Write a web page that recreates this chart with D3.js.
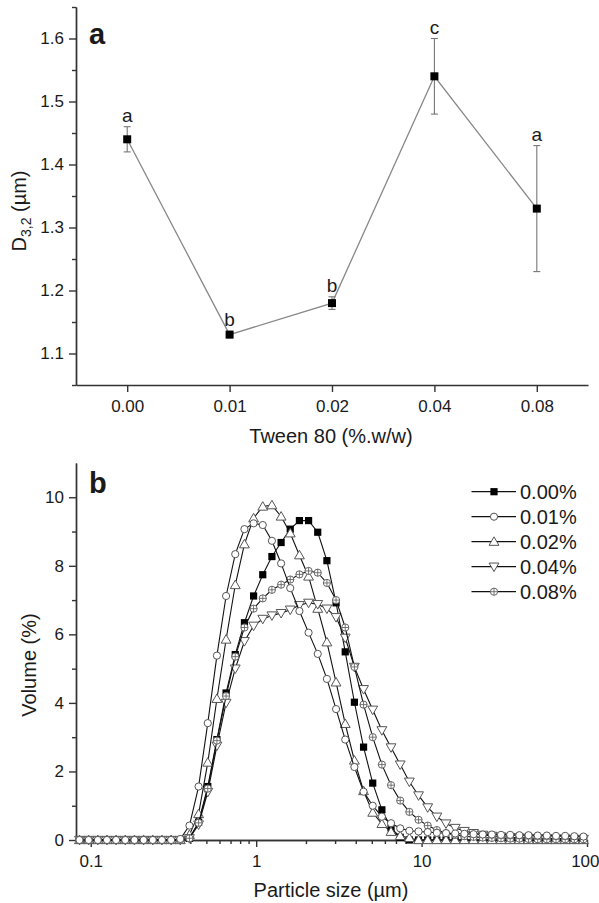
<!DOCTYPE html>
<html>
<head>
<meta charset="utf-8">
<script src="https://cdn.jsdelivr.net/npm/d3@7"></script>
<style>
  body { margin: 0; background: #fff; }
  text { font-family: "Liberation Sans", Arial, sans-serif; fill: #1a1a1a; }
  .axis path, .axis line { stroke: #333; stroke-width: 1.4; }
</style>
</head>
<body>
<svg id="chart" width="599" height="903"></svg>
<script>
// ---- panel a data: D3,2 vs Tween 80 level ----
const tweenLevels = ["0.00", "0.01", "0.02", "0.04", "0.08"];
const d32Mean = [1.44, 1.13, 1.18, 1.54, 1.33];
const d32Err = [0.02, 0.005, 0.01, 0.06, 0.10];
const groupLetters = ["a", "b", "b", "c", "a"];
const yTicksA = [1.1, 1.2, 1.3, 1.4, 1.5, 1.6];
const yMinorA = [1.05, 1.15, 1.25, 1.35, 1.45, 1.55, 1.65];

// ---- panel b data: volume distributions ----
const particleSizes = [0.0855, 0.0971, 0.1103, 0.1253, 0.1423, 0.1617, 0.1837, 0.2087, 0.2371, 0.2694,
  0.3060, 0.3477, 0.3950, 0.4487, 0.5098, 0.5791, 0.6579, 0.7474, 0.8492, 0.9647,
  1.096, 1.245, 1.415, 1.607, 1.826, 2.074, 2.356, 2.677, 3.041, 3.455,
  3.925, 4.459, 5.065, 5.754, 6.537, 7.427, 8.437, 9.585, 10.89, 12.37,
  14.05, 15.97, 18.14, 20.61, 23.41, 26.60, 30.21, 34.32, 38.99, 44.30,
  50.33, 57.17, 64.95, 73.79, 83.83, 95.24];
const vol000 = [0, 0, 0, 0, 0, 0, 0, 0, 0, 0,
  0, 0, 0.05, 0.52, 1.56, 2.93, 4.29, 5.41, 6.34, 7.12,
  7.74, 8.27, 8.68, 9.07, 9.32, 9.32, 8.98, 8.15, 6.92, 5.49,
  4.02, 2.71, 1.66, 0.88, 0.35, 0.08, 0, 0, 0, 0,
  0, 0, 0, 0, 0, 0, 0, 0, 0, 0,
  0, 0, 0, 0, 0, 0];
const vol001 = [0, 0, 0, 0, 0, 0, 0, 0, 0, 0,
  0, 0.03, 0.42, 1.56, 3.41, 5.38, 7.12, 8.34, 9.07, 9.24,
  9.19, 8.73, 8.07, 7.35, 6.68, 6.05, 5.43, 4.7, 3.82, 2.93,
  2.13, 1.41, 1.0, 0.68, 0.49, 0.34, 0.27, 0.25, 0.23, 0.21,
  0.2, 0.19, 0.18, 0.17, 0.16, 0.16, 0.15, 0.15, 0.14, 0.14,
  0.13, 0.13, 0.12, 0.12, 0.11, 0.1];
const vol002 = [0, 0, 0, 0, 0, 0, 0, 0, 0, 0,
  0, 0, 0.15, 0.76, 2.26, 4.12, 5.85, 7.44, 8.63, 9.39,
  9.73, 9.77, 9.44, 8.95, 8.31, 7.69, 6.75, 5.77, 4.6, 3.39,
  2.32, 1.43, 0.8, 0.47, 0.24, 0.12, 0.06, 0, 0, 0,
  0, 0, 0, 0, 0, 0, 0, 0, 0, 0,
  0, 0, 0, 0, 0, 0];
const vol004 = [0, 0, 0, 0, 0, 0, 0, 0, 0, 0,
  0, 0, 0.05, 0.45, 1.4, 2.75, 4.0, 5.0, 5.8, 6.25,
  6.45, 6.55, 6.62, 6.72, 6.85, 6.92, 6.88, 6.75, 6.5, 5.9,
  5.05, 4.4, 3.8, 3.2, 2.7, 2.2, 1.7, 1.3, 0.95, 0.68,
  0.48, 0.35, 0.26, 0.2, 0.15, 0.12, 0.1, 0.08, 0.07, 0.06,
  0.05, 0.05, 0.04, 0.04, 0.03, 0.03];
const vol008 = [0, 0, 0, 0, 0, 0, 0, 0, 0, 0,
  0, 0, 0.05, 0.5, 1.5, 2.9, 4.2, 5.35, 6.2, 6.75,
  7.05, 7.3, 7.45, 7.6, 7.75, 7.85, 7.8, 7.5, 7.0, 6.2,
  5.05, 3.95, 3.0, 2.2, 1.6, 1.15, 0.82, 0.59, 0.42, 0.29,
  0.2, 0.15, 0.11, 0.09, 0.07, 0.06, 0.05, 0.04, 0.04, 0.03,
  0.02, 0.02, 0.02, 0.02, 0.02, 0.02];
const seriesNames = ["0.00%", "0.01%", "0.02%", "0.04%", "0.08%"];
const seriesValues = [vol000, vol001, vol002, vol004, vol008];
const markerKinds = ["square", "circle", "up", "down", "cross"];
const yTicksB = [0, 2, 4, 6, 8, 10];
const yMinorB = [1, 3, 5, 7, 9];
const xTicksB = [0.1, 1, 10, 100];
const xMinorB = [0.09, 0.2, 0.3, 0.4, 0.5, 0.6, 0.7, 0.8, 0.9, 2, 3, 4, 5, 6, 7, 8, 9,
  20, 30, 40, 50, 60, 70, 80, 90];

const svg = d3.select("#chart");

// =============== panel a ===============
const xA = d3.scalePoint().domain(tweenLevels).range([76, 588]).padding(0.5);
const yA = d3.scaleLinear().domain([1.05, 1.65]).range([385, 7]);

const gA = svg.append("g");

gA.append("g").attr("class", "axis").attr("transform", "translate(76,0)")
  .call(d3.axisLeft(yA).tickValues(yMinorA).tickSize(4).tickSizeOuter(0).tickFormat(""));
gA.append("g").attr("class", "axis").attr("transform", "translate(76,0)")
  .call(d3.axisLeft(yA).tickValues(yTicksA).tickSize(7).tickSizeOuter(0).tickPadding(5)
    .tickFormat(d3.format(".1f")))
  .selectAll("text").style("font-size", "17px");
gA.append("g").attr("class", "axis").attr("transform", "translate(0,385)")
  .call(d3.axisBottom(xA).tickSize(7).tickSizeOuter(0).tickPadding(8))
  .selectAll("text").style("font-size", "17px");
gA.selectAll(".domain").attr("stroke-width", 1.6);

const ptsA = tweenLevels.map((c, i) => ({ c: c, m: d32Mean[i], e: d32Err[i], l: groupLetters[i] }));

gA.append("path").datum(ptsA)
  .attr("fill", "none").attr("stroke", "#888").attr("stroke-width", 1.3)
  .attr("d", d3.line().x(d => xA(d.c)).y(d => yA(d.m)));

const eb = gA.selectAll(".err").data(ptsA).enter().append("g").attr("class", "err")
  .attr("stroke", "#777").attr("stroke-width", 1.1);
eb.append("line").attr("x1", d => xA(d.c)).attr("x2", d => xA(d.c))
  .attr("y1", d => yA(d.m - d.e)).attr("y2", d => yA(d.m + d.e));
eb.append("line").attr("x1", d => xA(d.c) - 3.5).attr("x2", d => xA(d.c) + 3.5)
  .attr("y1", d => yA(d.m + d.e)).attr("y2", d => yA(d.m + d.e));
eb.append("line").attr("x1", d => xA(d.c) - 3.5).attr("x2", d => xA(d.c) + 3.5)
  .attr("y1", d => yA(d.m - d.e)).attr("y2", d => yA(d.m - d.e));

gA.selectAll(".ptA").data(ptsA).enter().append("rect")
  .attr("x", d => xA(d.c) - 4).attr("y", d => yA(d.m) - 4)
  .attr("width", 8).attr("height", 8).attr("fill", "#000");

// letters sit above the error bar, or above the marker when the bar is tiny
gA.selectAll(".lab").data(ptsA).enter().append("text")
  .attr("x", d => xA(d.c)).attr("y", d => Math.min(yA(d.m + d.e), yA(d.m) - 4) - 5)
  .attr("text-anchor", "middle").style("font-size", "19px").text(d => d.l);

gA.append("text").attr("x", 89).attr("y", 44)
  .style("font-size", "29px").style("font-weight", "bold").text("a");

const yTitleA = gA.append("text").attr("transform", "translate(26,211) rotate(-90)")
  .attr("text-anchor", "middle").style("font-size", "20px");
yTitleA.append("tspan").text("D");
yTitleA.append("tspan").attr("dy", 5).style("font-size", "14px").text("3,2");
yTitleA.append("tspan").attr("dy", -5).text(" (\u00b5m)");

gA.append("text").attr("x", 331).attr("y", 443).attr("text-anchor", "middle")
  .style("font-size", "20px").text("Tween 80 (%.w/w)");

// =============== panel b ===============
const xB = d3.scaleLog().domain([0.082, 100]).range([76.5, 587]);
const yB = d3.scaleLinear().domain([0, 11]).range([840, 463]);

const gB = svg.append("g");

gB.append("g").attr("class", "axis").attr("transform", "translate(76,0)")
  .call(d3.axisLeft(yB).tickValues(yMinorB).tickSize(4).tickSizeOuter(0).tickFormat(""));
gB.append("g").attr("class", "axis").attr("transform", "translate(76,0)")
  .call(d3.axisLeft(yB).tickValues(yTicksB).tickSize(7).tickSizeOuter(0).tickPadding(5)
    .tickFormat(d3.format("d")))
  .selectAll("text").style("font-size", "17px");
gB.append("g").attr("class", "axis").attr("transform", "translate(0,840)")
  .call(d3.axisBottom(xB).tickValues(xMinorB).tickSize(4).tickSizeOuter(0).tickFormat(""));
const xAxisB = gB.append("g").attr("class", "axis").attr("transform", "translate(0,840)")
  .call(d3.axisBottom(xB).tickValues(xTicksB).tickSize(7).tickSizeOuter(0).tickPadding(8)
    .tickFormat(d => String(d)));
xAxisB.selectAll("text").style("font-size", "17px")
  .filter(d => d === 100).attr("text-anchor", "end").attr("x", 12);
gB.selectAll(".domain").attr("stroke-width", 1.6);

function drawMarker(sel, kind) {
  if (kind === "square") {
    sel.append("rect").attr("x", -3.6).attr("y", -3.6).attr("width", 7.2).attr("height", 7.2)
      .attr("fill", "#000");
  } else if (kind === "circle") {
    sel.append("circle").attr("r", 3.6).attr("fill", "#fff").attr("stroke", "#555").attr("stroke-width", 1);
  } else if (kind === "up") {
    sel.append("path").attr("d", d3.symbol(d3.symbolTriangle, 42)())
      .attr("transform", "translate(0,0.8)")
      .attr("fill", "#fff").attr("stroke", "#555").attr("stroke-width", 1);
  } else if (kind === "down") {
    sel.append("path").attr("d", d3.symbol(d3.symbolTriangle, 42)())
      .attr("transform", "translate(0,-0.8) rotate(180)")
      .attr("fill", "#fff").attr("stroke", "#555").attr("stroke-width", 1);
  } else {
    sel.append("circle").attr("r", 3.6).attr("fill", "#fff").attr("stroke", "#666").attr("stroke-width", 1);
    sel.append("path").attr("d", "M0,-3.6V3.6M-3.6,0H3.6")
      .attr("stroke", "#666").attr("stroke-width", 0.9);
  }
}

const lineB = d3.line().x(d => xB(d.s)).y(d => yB(d.v));
const drawOrder = [0, 2, 3, 4, 1];

drawOrder.forEach(si => {
  const pts = particleSizes.map((s, i) => ({ s: s, v: seriesValues[si][i] }));
  const g = gB.append("g");
  g.append("path").datum(pts).attr("fill", "none").attr("stroke", "#111")
    .attr("stroke-width", 1.1).attr("d", lineB);
  g.selectAll(".mk").data(pts).enter().append("g")
    .attr("transform", d => `translate(${xB(d.s)},${yB(d.v)})`)
    .each(function () { drawMarker(d3.select(this), markerKinds[si]); });
});

// legend
seriesNames.forEach((name, i) => {
  const y = 491.7 + 25 * i;
  const lg = svg.append("g").attr("transform", `translate(0,${y})`);
  lg.append("line").attr("x1", 471.5).attr("x2", 516).attr("y1", 0).attr("y2", 0)
    .attr("stroke", "#111").attr("stroke-width", 1.3);
  const mk = lg.append("g").attr("transform", "translate(494,0)");
  drawMarker(mk, markerKinds[i]);
  lg.append("text").attr("x", 520).attr("y", 0).attr("dy", "0.36em")
    .style("font-size", "20px").text(name);
});

gB.append("text").attr("x", 89).attr("y", 493)
  .style("font-size", "29px").style("font-weight", "bold").text("b");

gB.append("text").attr("transform", "translate(36,665) rotate(-90)")
  .attr("text-anchor", "middle").style("font-size", "20px").text("Volume (%)");

gB.append("text").attr("x", 331).attr("y", 897).attr("text-anchor", "middle")
  .style("font-size", "20px").text("Particle size (\u00b5m)");
</script>
</body>
</html>
